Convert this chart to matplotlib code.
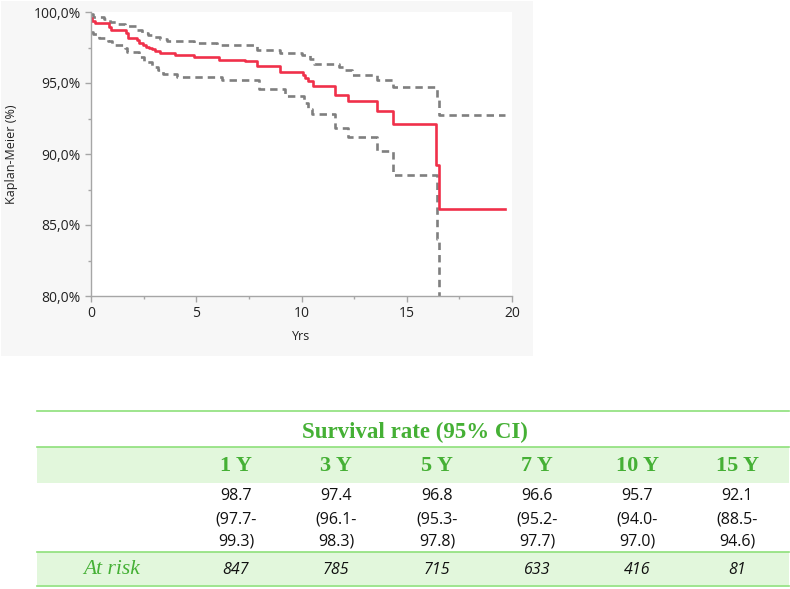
import numpy as np
import matplotlib
matplotlib.use('Agg')
import matplotlib.pyplot as plt
from matplotlib.patches import Rectangle
from matplotlib.ticker import FuncFormatter, MultipleLocator

# Kaplan-Meier estimate (step times in years, survival in %)
km_t = [0, 0.07, 0.2, 0.85, 0.95, 1.65, 1.75, 2.2, 2.3, 2.45, 2.6, 2.75, 2.9, 3.05, 3.3,
        4.0, 4.9, 6.1, 7.3, 7.9, 9.0, 10.05, 10.15, 10.3, 10.55, 11.6, 12.2, 13.6, 14.35,
        16.4, 16.55, 19.65]
km_s = [99.6, 99.4, 99.2, 98.95, 98.7, 98.5, 98.2, 98.0, 97.85, 97.7, 97.55, 97.45, 97.4,
        97.25, 97.1, 96.95, 96.8, 96.65, 96.55, 96.2, 95.8, 95.55, 95.35, 95.15, 94.8, 94.15,
        93.7, 93.05, 92.1, 89.25, 86.1, 86.1]

# upper 95% CI
up_t = [0, 0.1, 0.6, 0.9, 1.2, 1.6, 2.2, 2.4, 2.7, 2.9, 3.3, 3.6, 4.9, 6.0, 7.9, 9.0,
        10.0, 10.4, 10.6, 11.8, 12.0, 12.4, 13.6, 14.35, 16.45, 16.55, 19.65]
up_s = [99.85, 99.65, 99.5, 99.3, 99.15, 99.0, 98.7, 98.5, 98.35, 98.25, 98.1, 97.95, 97.8,
        97.7, 97.35, 97.1, 97.0, 96.7, 96.35, 96.1, 95.9, 95.55, 95.2, 94.7, 93.9, 92.75, 92.75]

# lower 95% CI
lo_t = [0, 0.1, 0.4, 0.8, 1.0, 1.6, 1.7, 2.3, 2.5, 2.9, 3.2, 3.4, 4.1, 6.2, 8.0, 9.2,
        10.1, 10.3, 10.5, 11.6, 12.2, 13.6, 14.35, 16.45, 16.55]
lo_s = [98.6, 98.45, 98.2, 97.95, 97.7, 97.5, 97.15, 96.8, 96.5, 96.1, 95.9, 95.65, 95.4,
        95.2, 94.6, 94.05, 93.6, 93.2, 92.85, 91.85, 91.2, 90.2, 88.5, 84.0, 80.0]

# survival table
tab_years = ['1 Y', '3 Y', '5 Y', '7 Y', '10 Y', '15 Y']
tab_surv = [98.7, 97.4, 96.8, 96.6, 95.7, 92.1]
tab_lo = [97.7, 96.1, 95.3, 95.2, 94.0, 88.5]
tab_hi = [99.3, 98.3, 97.8, 97.7, 97.0, 94.6]
tab_risk = [847, 785, 715, 633, 416, 81]

W, H = 790, 589
fig = plt.figure(figsize=(W / 100, H / 100), dpi=100)
fig.patch.set_facecolor('white')

# background canvas in pixel coords
bg = fig.add_axes([0, 0, 1, 1], zorder=0)
bg.set_xlim(0, W)
bg.set_ylim(H, 0)
bg.axis('off')
bg.add_patch(Rectangle((1, 1), 532, 355, facecolor='#f7f7f7', edgecolor='none'))

# ---- KM plot ----
ax = fig.add_axes([91 / W, 1 - 296 / H, 421 / W, 284 / H], zorder=2)
ax.set_facecolor('white')
ax.step(up_t, up_s, where='post', color='#7f7f7f', lw=1.9, dashes=(2.8, 1.9))
ax.step(lo_t, lo_s, where='post', color='#7f7f7f', lw=1.9, dashes=(2.8, 1.9))
ax.step(km_t, km_s, where='post', color='#f0304a', lw=1.9)

ax.set_xlim(0, 20)
ax.set_ylim(80, 100)
ax.xaxis.set_major_locator(MultipleLocator(5))
ax.xaxis.set_minor_locator(MultipleLocator(2.5))
ax.yaxis.set_major_locator(MultipleLocator(5))
ax.yaxis.set_minor_locator(MultipleLocator(2.5))
ax.yaxis.set_major_formatter(FuncFormatter(lambda v, p: ('%.1f%%' % v).replace('.', ',')))
for s in ['top', 'right']:
    ax.spines[s].set_visible(False)
for s in ['left', 'bottom']:
    ax.spines[s].set_color('#a6a6a6')
    ax.spines[s].set_linewidth(1.0)
ax.tick_params(which='major', direction='out', length=4, width=1, color='#a6a6a6',
               labelsize=10, labelcolor='#222222')
ax.tick_params(which='minor', direction='out', length=2.5, width=1, color='#a6a6a6')
for lbl in ax.get_xticklabels() + ax.get_yticklabels():
    lbl.set_fontfamily('Open Sans')
ax.set_ylabel('Kaplan-Meier (%)', fontsize=9, family='Open Sans', color='#222222')
ax.set_xlabel('Yrs', fontsize=9, family='Open Sans', color='#222222')
ax.yaxis.set_label_coords(-0.173, 0.5)
ax.xaxis.set_label_coords(0.499, -0.12)

# ---- survival table ----
green_txt = '#45b035'
green_line = '#8ee07a'
green_fill = '#e2f7dc'
col_x = [236, 336, 437, 537, 637, 737]
x0, x1 = 37, 789

bg.add_patch(Rectangle((x0, 447), x1 - x0, 35.5, facecolor=green_fill, edgecolor='none'))
bg.add_patch(Rectangle((x0, 552), x1 - x0, 33, facecolor=green_fill, edgecolor='none'))
for yy in [411, 447, 552, 586]:
    bg.plot([x0, x1], [yy, yy], color=green_line, lw=1.2)

bg.text(415, 432, 'Survival rate (95% CI)', ha='center', va='center', fontsize=16.5,
        family='Liberation Serif', weight='bold', color=green_txt)
for i, x in enumerate(col_x):
    bg.text(x, 466, tab_years[i], ha='center', va='center', fontsize=16,
            family='Liberation Serif', weight='bold', color=green_txt)
    bg.text(x, 496.5, '%.1f' % tab_surv[i], ha='center', va='center', fontsize=11.5,
            family='Open Sans', color='#111111')
    bg.text(x, 519, '(%.1f-' % tab_lo[i], ha='center', va='center', fontsize=11.5,
            family='Open Sans', color='#111111')
    bg.text(x, 541.5, '%.1f)' % tab_hi[i], ha='center', va='center', fontsize=11.5,
            family='Open Sans', color='#111111')
    bg.text(x, 570, str(tab_risk[i]), ha='center', va='center', fontsize=11.5,
            family='Open Sans', style='italic', color='#111111')
bg.text(112, 570, 'At risk', ha='center', va='center', fontsize=15.5,
        family='Liberation Serif', style='italic', color=green_txt)

fig.savefig('out.png', dpi=100)
